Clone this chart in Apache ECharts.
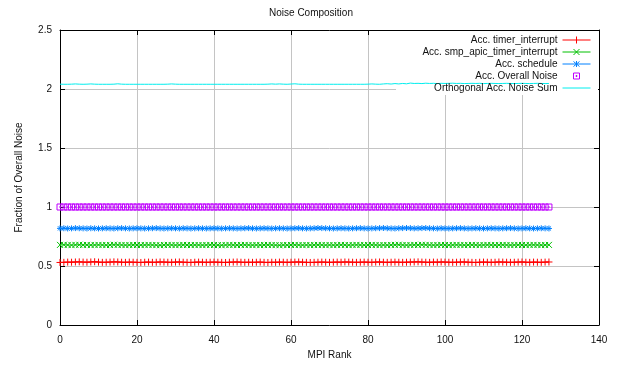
<!DOCTYPE html>
<html>
<head>
<meta charset="utf-8">
<script src="https://cdn.jsdelivr.net/npm/echarts@6/dist/echarts.min.js"></script>
<style>
  html, body { margin: 0; padding: 0; background: #fff; }
  #chart { width: 622px; height: 367px; }
</style>
</head>
<body>
<div id="chart"></div>
<script>
// Accumulated noise fractions per MPI rank (ranks 0..127)
const timerInterrupt = [
  0.530,0.531,0.533,0.532,0.534,0.535,0.533,0.532,0.534,0.536,
  0.533,0.531,0.532,0.533,0.535,0.534,0.532,0.531,0.533,0.532,
  0.531,0.530,0.532,0.533,0.531,0.532,0.534,0.533,0.532,0.531,
  0.533,0.534,0.532,0.531,0.530,0.532,0.533,0.532,0.531,0.532,
  0.533,0.532,0.531,0.530,0.532,0.533,0.534,0.532,0.531,0.532,
  0.531,0.532,0.533,0.531,0.530,0.532,0.531,0.533,0.532,0.531,
  0.532,0.533,0.534,0.532,0.531,0.530,0.531,0.532,0.533,0.532,
  0.531,0.532,0.533,0.532,0.534,0.533,0.532,0.531,0.532,0.533,
  0.532,0.531,0.533,0.534,0.532,0.531,0.532,0.533,0.532,0.531,
  0.532,0.533,0.534,0.535,0.533,0.532,0.531,0.533,0.532,0.534,
  0.533,0.532,0.531,0.532,0.533,0.534,0.532,0.531,0.530,0.532,
  0.533,0.532,0.531,0.532,0.534,0.533,0.532,0.531,0.532,0.533,
  0.534,0.532,0.531,0.533,0.532,0.531,0.533,0.534
];
const smpApicTimerInterrupt = [
  0.679,0.680,0.678,0.677,0.679,0.680,0.678,0.679,0.677,0.678,
  0.679,0.678,0.677,0.678,0.680,0.679,0.678,0.677,0.678,0.679,
  0.678,0.677,0.678,0.679,0.678,0.677,0.676,0.678,0.679,0.678,
  0.677,0.678,0.679,0.678,0.677,0.678,0.678,0.677,0.678,0.679,
  0.678,0.677,0.676,0.678,0.679,0.678,0.677,0.678,0.679,0.678,
  0.677,0.678,0.677,0.678,0.679,0.678,0.677,0.676,0.678,0.677,
  0.678,0.679,0.678,0.677,0.678,0.677,0.678,0.679,0.678,0.677,
  0.678,0.677,0.678,0.679,0.678,0.677,0.678,0.679,0.678,0.677,
  0.678,0.679,0.678,0.677,0.678,0.677,0.678,0.679,0.680,0.678,
  0.677,0.678,0.679,0.678,0.680,0.679,0.678,0.677,0.678,0.679,
  0.678,0.677,0.678,0.679,0.678,0.677,0.678,0.679,0.678,0.677,
  0.678,0.679,0.678,0.677,0.678,0.679,0.678,0.677,0.678,0.679,
  0.678,0.677,0.678,0.679,0.678,0.677,0.678,0.679
];
const schedule = [
  0.819,0.820,0.818,0.819,0.821,0.820,0.819,0.818,0.820,0.819,
  0.818,0.819,0.820,0.819,0.818,0.820,0.821,0.819,0.818,0.819,
  0.820,0.819,0.818,0.819,0.820,0.821,0.819,0.818,0.819,0.820,
  0.819,0.818,0.820,0.819,0.818,0.819,0.820,0.819,0.818,0.819,
  0.820,0.819,0.818,0.819,0.820,0.819,0.818,0.819,0.820,0.821,
  0.819,0.818,0.819,0.820,0.819,0.818,0.819,0.820,0.819,0.818,
  0.819,0.820,0.821,0.819,0.818,0.819,0.820,0.822,0.821,0.820,
  0.819,0.818,0.819,0.820,0.819,0.818,0.819,0.820,0.821,0.819,
  0.818,0.819,0.820,0.821,0.822,0.820,0.819,0.818,0.820,0.821,
  0.822,0.821,0.819,0.820,0.821,0.822,0.820,0.819,0.818,0.820,
  0.819,0.818,0.819,0.820,0.821,0.819,0.818,0.819,0.820,0.819,
  0.818,0.819,0.820,0.819,0.818,0.819,0.820,0.821,0.819,0.818,
  0.819,0.820,0.819,0.818,0.819,0.820,0.819,0.818
];
const overallNoise = [
  1,1,1,1,1,1,1,1,1,1, 1,1,1,1,1,1,1,1,1,1,
  1,1,1,1,1,1,1,1,1,1, 1,1,1,1,1,1,1,1,1,1,
  1,1,1,1,1,1,1,1,1,1, 1,1,1,1,1,1,1,1,1,1,
  1,1,1,1,1,1,1,1,1,1, 1,1,1,1,1,1,1,1,1,1,
  1,1,1,1,1,1,1,1,1,1, 1,1,1,1,1,1,1,1,1,1,
  1,1,1,1,1,1,1,1,1,1, 1,1,1,1,1,1,1,1,1,1,
  1,1,1,1,1,1,1,1
];
const orthogonalSum = [
  2.041,2.040,2.040,2.041,2.043,2.041,2.040,2.041,2.043,2.041,
  2.040,2.040,2.040,2.040,2.041,2.044,2.041,2.040,2.040,2.040,
  2.040,2.040,2.040,2.040,2.040,2.040,2.040,2.040,2.041,2.043,
  2.041,2.040,2.040,2.040,2.040,2.040,2.040,2.040,2.040,2.040,
  2.040,2.040,2.040,2.040,2.040,2.040,2.040,2.040,2.040,2.040,
  2.040,2.040,2.040,2.040,2.041,2.043,2.041,2.043,2.041,2.040,
  2.042,2.044,2.041,2.040,2.040,2.040,2.040,2.040,2.040,2.040,
  2.040,2.040,2.040,2.040,2.040,2.040,2.040,2.040,2.040,2.040,
  2.041,2.043,2.041,2.040,2.043,2.045,2.042,2.046,2.043,2.047,
  2.044,2.050,2.047,2.048,2.046,2.049,2.047,2.048,2.046,2.048,
  2.047,2.048,2.049,2.047,2.048,2.046,2.047,2.048,2.047,2.048,
  2.046,2.047,2.048,2.047,2.046,2.047,2.048,2.047,2.046,2.047,
  2.048,2.047,2.046,2.047,2.048,2.047,2.046,2.047
];

const seriesNames = [
  'Acc. timer_interrupt',
  'Acc. smp_apic_timer_interrupt',
  'Acc. schedule',
  'Acc. Overall Noise',
  'Orthogonal Acc. Noise Sum'
];
const seriesColors = ['#ff0000', '#00c000', '#0080ff', '#c000ff', '#00eeee'];

const xTicks = [0, 20, 40, 60, 80, 100, 120, 140];
const yTicks = [0, 0.5, 1, 1.5, 2, 2.5];

const ranks = timerInterrupt.map((_, i) => i);
const pairs = vals => ranks.map((r, i) => [r, vals[i]]);

// gnuplot-like point shapes
const plusPath = 'path://M0,5H10M5,0V10';
const crossPath = 'path://M0,0L10,10M10,0L0,10';
const starPath = 'path://M0,5H10M5,0V10M1.5,1.5L8.5,8.5M8.5,1.5L1.5,8.5';
const boxPath = 'path://M0,0H10V10H0ZM4.5,4.5H5.5V5.5H4.5Z';

// key samples (28x8 box): sample line with the point shape in the middle
const keyIcons = [
  'path://M0,0M28,8M0,4H28M14,0.5V7.5',
  'path://M0,0M28,8M0,4H28M11,1L17,7M17,1L11,7',
  'path://M0,0M28,8M0,4H28M14,1V7M11,1.5L17,6.5M17,1.5L11,6.5',
  'path://M0,0M28,8M11,1H17V7H11ZM13.5,3.5H14.5V4.5H13.5Z',
  'path://M0,0M28,8M0,4H28'
];

const FONT = 'Liberation Sans, Arial, Helvetica, sans-serif';
const TEXT = '#111111';

const chart = echarts.init(document.getElementById('chart'), null, { renderer: 'canvas' });

function pointSeries(idx, vals, symbol, size, withLine) {
  const c = seriesColors[idx];
  return {
    name: seriesNames[idx],
    type: 'line',
    data: pairs(vals),
    symbol: symbol,
    symbolSize: size,
    showAllSymbol: true,
    animation: false,
    z: 3,
    itemStyle: { color: 'rgba(0,0,0,0)', borderColor: c, borderWidth: 1 },
    lineStyle: withLine ? { color: c, width: 1 } : { color: c, width: 0, opacity: 0 },
    emphasis: { disabled: true }
  };
}

const rowTops = [35, 47, 59, 71, 83];
const legends = seriesNames.map((n, i) => ({
  show: true,
  right: 31,
  top: rowTops[i],
  orient: 'vertical',
  align: 'right',
  padding: 0,
  itemWidth: 28,
  itemHeight: 8,
  selectedMode: false,
  itemStyle: { color: 'rgba(0,0,0,0)', borderColor: seriesColors[i], borderWidth: 1 },
  data: [{ name: n, icon: keyIcons[i] }],
  textStyle: { fontFamily: FONT, fontSize: 10, color: TEXT }
}));

const option = {
  backgroundColor: '#ffffff',
  animation: false,
  title: {
    text: 'Noise Composition',
    left: 'center',
    top: 3,
    textStyle: { fontFamily: FONT, fontSize: 10, fontWeight: 'normal', color: TEXT }
  },
  legend: legends,
  grid: { left: 60, right: 23, top: 30, bottom: 42, containLabel: false },
  xAxis: [
    {
      type: 'value',
      min: xTicks[0], max: xTicks[xTicks.length - 1], interval: xTicks[1] - xTicks[0],
      name: 'MPI Rank', nameLocation: 'middle', nameGap: 24,
      nameTextStyle: { fontFamily: FONT, fontSize: 10, color: TEXT },
      axisLine: { show: true, onZero: false, lineStyle: { color: '#000', width: 1 } },
      axisTick: { show: true, inside: true, length: 5, lineStyle: { color: '#000' } },
      axisLabel: { fontFamily: FONT, fontSize: 10, color: TEXT, margin: 10 },
      splitLine: { show: true, lineStyle: { color: '#c4c4c4', width: 1 } }
    },
    {
      type: 'value', position: 'top',
      min: xTicks[0], max: xTicks[xTicks.length - 1], interval: xTicks[1] - xTicks[0],
      axisLine: { show: true, onZero: false, lineStyle: { color: '#000', width: 1 } },
      axisTick: { show: true, inside: true, length: 5, lineStyle: { color: '#000' } },
      axisLabel: { show: false },
      splitLine: { show: false }
    }
  ],
  yAxis: [
    {
      type: 'value',
      min: yTicks[0], max: yTicks[yTicks.length - 1], interval: yTicks[1] - yTicks[0],
      name: 'Fraction of Overall Noise', nameLocation: 'middle', nameGap: 36,
      nameTextStyle: { fontFamily: FONT, fontSize: 10, color: TEXT },
      axisLine: { show: true, onZero: false, lineStyle: { color: '#000', width: 1 } },
      axisTick: { show: true, inside: true, length: 5, lineStyle: { color: '#000' } },
      axisLabel: { fontFamily: FONT, fontSize: 10, color: TEXT, margin: 8 },
      splitLine: { show: true, lineStyle: { color: '#c4c4c4', width: 1 } }
    },
    {
      type: 'value', position: 'right',
      min: yTicks[0], max: yTicks[yTicks.length - 1], interval: yTicks[1] - yTicks[0],
      axisLine: { show: true, onZero: false, lineStyle: { color: '#000', width: 1 } },
      axisTick: { show: true, inside: true, length: 5, lineStyle: { color: '#000' } },
      axisLabel: { show: false },
      splitLine: { show: false }
    }
  ],
  // key area is kept clear of grid lines
  graphic: [{
    type: 'rect',
    shape: { x: 396, y: 31, width: 202, height: 64 },
    style: { fill: '#ffffff' },
    z: 1,
    silent: true
  }],
  series: [
    pointSeries(0, timerInterrupt, plusPath, 7, true),
    pointSeries(1, smpApicTimerInterrupt, crossPath, 6, true),
    pointSeries(2, schedule, starPath, 6, true),
    pointSeries(3, overallNoise, boxPath, 6, false),
    {
      name: seriesNames[4],
      type: 'line',
      data: pairs(orthogonalSum),
      symbol: 'none',
      animation: false,
      z: 3,
      itemStyle: { color: seriesColors[4] },
      lineStyle: { color: seriesColors[4], width: 1 },
      emphasis: { disabled: true }
    }
  ]
};
chart.setOption(option);
</script>
</body>
</html>
